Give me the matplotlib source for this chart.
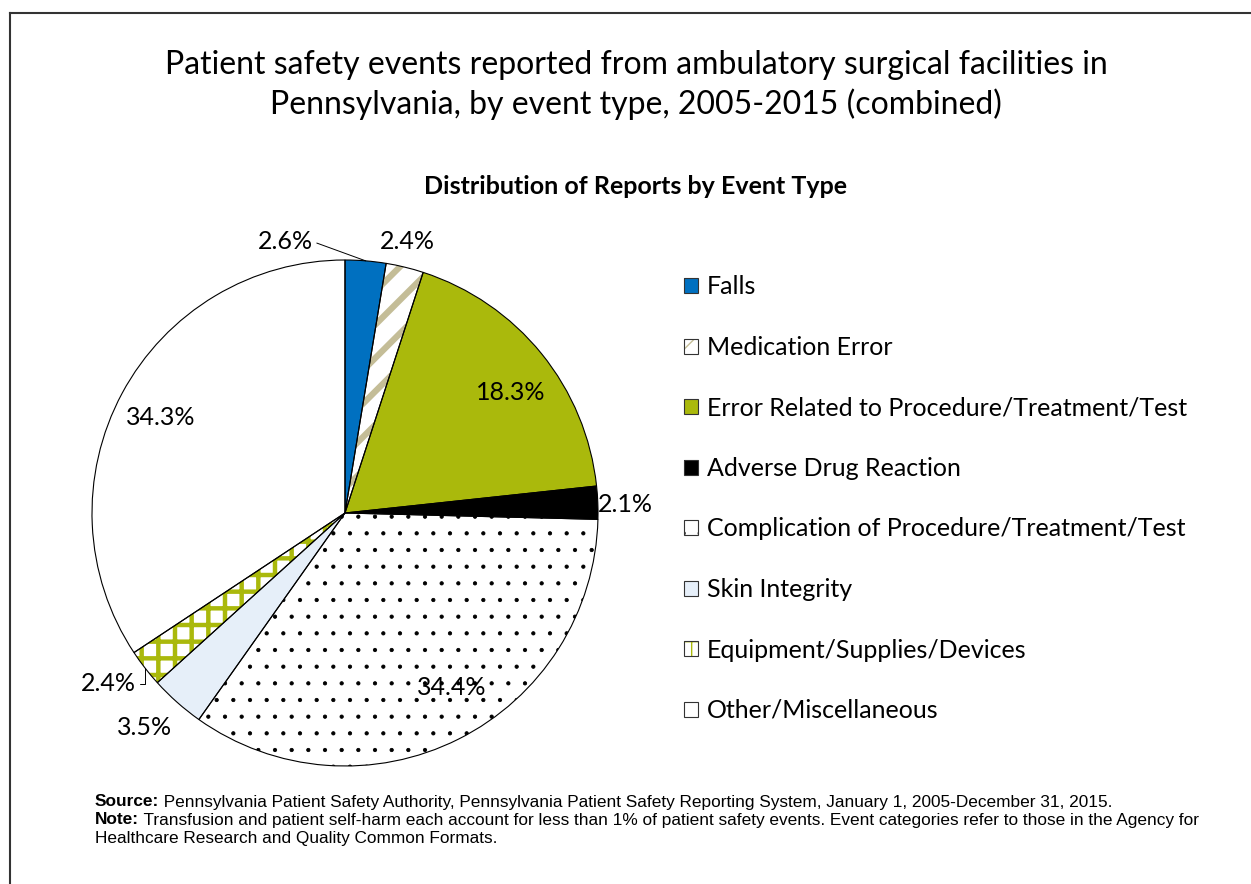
import matplotlib
matplotlib.use("Agg")
from matplotlib import pyplot as plt
from matplotlib.patches import Patch
from matplotlib.lines import Line2D
from matplotlib.legend_handler import HandlerTuple
import numpy as np

event_types = ["Falls", "Medication Error", "Error Related to Procedure/Treatment/Test",
               "Adverse Drug Reaction", "Complication of Procedure/Treatment/Test",
               "Skin Integrity", "Equipment/Supplies/Devices", "Other/Miscellaneous"]
shares = [2.6, 2.4, 18.3, 2.1, 34.4, 3.5, 2.4, 34.3]

olive = "#AAB90C"
face_colors = ["#0070C0", "white", olive, "black", "white", "#E6EFF9", "white", "white"]
hatch_colors = [None, "#C4BD97", None, None, "black", None, olive, None]
hatches = [None, "/", None, None, ".", None, "+", None]
hatch_widths = [None, 4.5, None, None, 0.6, None, 3.2, None]

# label placement: shift from wedge mid angle (deg) and radius (fraction of R)
label_shift = [17.1, 0.7, -3.1, -0.7, 4.8, -1.4, -2.0, 0.7]
label_r = [1.10, 1.10, 0.81, 1.11, 0.81, 1.16, 1.155, 0.82]

W, H = 1251, 884
plt.rcParams['font.family'] = ['Lato', 'DejaVu Sans']
fig = plt.figure(figsize=(W / 100, H / 100), dpi=100)

# pie axes: center (345, 513) px, radius 253 px
cx, cy, R = 345, 513, 253
ax = fig.add_axes([(cx - R) / W, (H - cy - R) / H, 2 * R / W, 2 * R / H])

wedges, _ = ax.pie(shares, startangle=90, counterclock=False, colors=face_colors,
                   wedgeprops=dict(linewidth=0))
for w, hc, h, hw in zip(wedges, hatch_colors, hatches, hatch_widths):
    if h:
        w.set_edgecolor(hc)
        w.set_hatch(h)
        if hasattr(w, "set_hatch_linewidth"):
            w.set_hatch_linewidth(hw)
if not hasattr(wedges[0], "set_hatch_linewidth"):
    plt.rcParams['hatch.linewidth'] = 2.5

# black outlines on top
outlines, _ = ax.pie(shares, startangle=90, counterclock=False,
                     wedgeprops=dict(fill=False, edgecolor="black", linewidth=0.8))
ax.set_xlim(-1, 1)
ax.set_ylim(-1, 1)

for i, w in enumerate(wedges):
    mid = (w.theta1 + w.theta2) / 2
    ang = np.deg2rad(mid + label_shift[i])
    tx, ty = label_r[i] * np.cos(ang), label_r[i] * np.sin(ang)
    txt = "%.1f%%" % shares[i]
    if i in (0, 6):
        ex, ey = np.cos(np.deg2rad(mid)), np.sin(np.deg2rad(mid))
        style = "angle,angleA=0,angleB=-20" if i == 0 else "angle,angleA=0,angleB=90"
        ax.annotate(txt, xy=(ex, ey), xytext=(tx, ty), ha="center", va="center",
                    fontsize=18, annotation_clip=False,
                    arrowprops=dict(arrowstyle="-", color="black", lw=0.7,
                                    relpos=(1, 0.5), shrinkA=1, shrinkB=0,
                                    connectionstyle=style))
    else:
        ax.text(tx, ty, txt, ha="center", va="center", fontsize=18)

# legend with hatched squares and black outline
handles = []
for fc, hc, h in zip(face_colors, hatch_colors, hatches):
    fill = Patch(facecolor=fc, edgecolor=hc if hc else fc, hatch=h, linewidth=0)
    edge = Patch(facecolor="none", edgecolor="#333333", linewidth=0.8)
    handles.append((fill, edge))
fig.legend(handles, event_types, loc="upper left", bbox_to_anchor=(684 / W, 1 - 275.5 / H),
           frameon=False, fontsize=18, handlelength=0.56, handleheight=0.56,
           handletextpad=0.36, labelspacing=1.5, borderpad=0, borderaxespad=0,
           handler_map={tuple: HandlerTuple(ndivide=1, pad=0)})

fig.text(636 / W, 1 - 85 / H,
         "Patient safety events reported from ambulatory surgical facilities in\n"
         "Pennsylvania, by event type, 2005-2015 (combined)",
         ha="center", va="center", fontsize=23, linespacing=1.36)
fig.text(636 / W, 1 - 187 / H, "Distribution of Reports by Event Type",
         ha="center", va="center", fontsize=18, fontweight="bold")

# footnotes
foot = ["Liberation Sans", "DejaVu Sans"]
fs = 12.4
src = fig.text(95 / W, 1 - 802 / H, "Source:", fontsize=fs, fontweight="bold",
               family=foot, va="center")
ax.annotate(" Pennsylvania Patient Safety Authority, Pennsylvania Patient Safety Reporting "
            "System, January 1, 2005-December 31, 2015.",
            xy=(1, 0.5), xycoords=src, va="center", fontsize=fs, family=foot,
            annotation_clip=False)
note = fig.text(95 / W, 1 - 820 / H, "Note:", fontsize=fs, fontweight="bold",
                family=foot, va="center")
ax.annotate(" Transfusion and patient self-harm each account for less than 1% of patient "
            "safety events. Event categories refer to those in the Agency for",
            xy=(1, 0.5), xycoords=note, va="center", fontsize=fs, family=foot,
            annotation_clip=False)
fig.text(95 / W, 1 - 839 / H, "Healthcare Research and Quality Common Formats.",
         fontsize=fs, family=foot, va="center")

# frame lines at top and left
fig.add_artist(Line2D([9.5 / W, 1], [1 - 13 / H, 1 - 13 / H], color="#333333", lw=1.5))
fig.add_artist(Line2D([9.5 / W, 9.5 / W], [0, 1 - 13 / H], color="#333333", lw=1.5))

fig.savefig("out.png", dpi=100)
